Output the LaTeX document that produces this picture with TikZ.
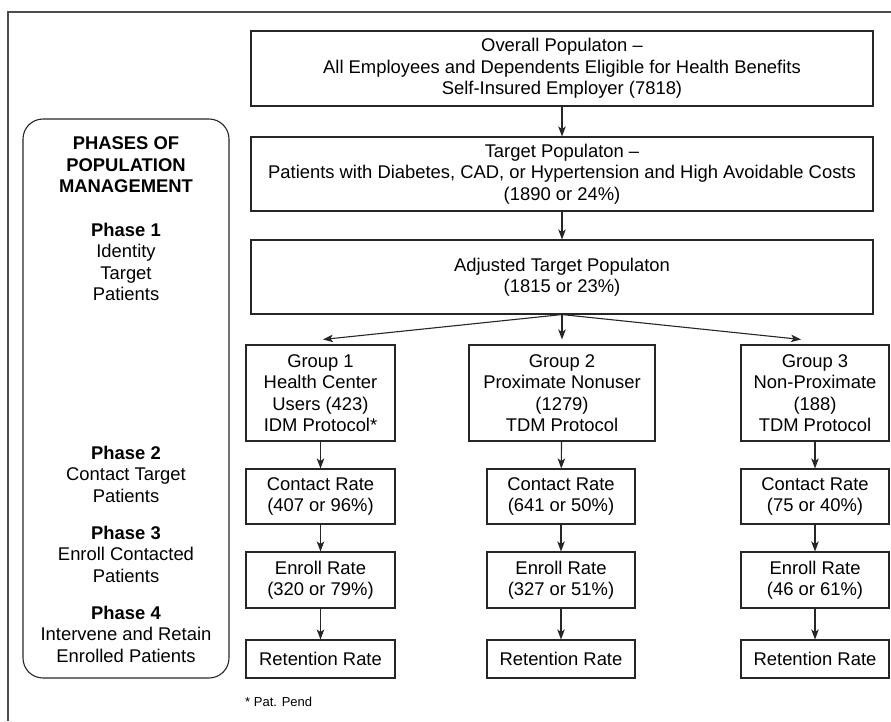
\documentclass[tikz,border=0pt]{standalone}
\usepackage{fontspec}
\setmainfont{Liberation Sans}
\usetikzlibrary{arrows.meta}
\newcommand\diagfont{\fontsize{18.4pt}{21.5pt}\selectfont}

\begin{document}
\begin{tikzpicture}[x=1pt,y=-1pt,
    box/.style 2 args={draw=black!85,line width=1.1pt,align=center,inner sep=0pt,
      font=\diagfont,minimum width=#1,minimum height=#2},
    phase/.style={align=center,font=\diagfont},
    arr/.style={draw=black!85,line width=1.1pt,-{Stealth[length=10pt,width=7.5pt,inset=2.5pt]}}]
  \useasboundingbox (0,0) rectangle (891,721);
  \draw[black!70,line width=1.1pt] (8,721) -- (8,12) -- (891,12);

  \node[box={206pt}{559pt},rounded corners=20pt] (phases) at (126,398.5) {};
  \node[phase] (head) at (126,165) {\bfseries PHASES OF\\\bfseries POPULATION\\\bfseries MANAGEMENT};
  \node[phase] (ph1) at (126,262) {\bfseries Phase 1\\Identity\\Target\\Patients};
  \node[phase] (ph2) at (126,474) {\bfseries Phase 2\\Contact Target\\Patients};
  \node[phase] (ph3) at (126,554) {\bfseries Phase 3\\Enroll Contacted\\Patients};
  \node[phase] (ph4) at (126,634) {\bfseries Phase 4\\Intervene and Retain\\Enrolled Patients};

  \node[box={622pt}{75pt}] (overall) at (562,68.5) {Overall Populaton --\\All Employees and Dependents Eligible for Health Benefits\\Self-Insured Employer (7818)};
  \node[box={622pt}{74pt}] (target) at (562,174) {Target Populaton --\\Patients with Diabetes, CAD, or Hypertension and High Avoidable Costs\\(1890 or 24\%)};
  \node[box={622pt}{74pt}] (adjusted) at (562,277) {Adjusted Target Populaton\\(1815 or 23\%)};

  \node[box={149pt}{96pt}] (grp1) at (320.5,393) {Group 1\\Health Center\\Users (423)\\IDM Protocol*};
  \node[box={186pt}{96pt}] (grp2) at (562,393) {Group 2\\Proximate Nonuser\\(1279)\\TDM Protocol};
  \node[box={148pt}{96pt}] (grp3) at (815,393) {Group 3\\Non-Proximate\\(188)\\TDM Protocol};

  \node[box={149pt}{55pt}] (contact1) at (320.5,496.5) {Contact Rate\\(407 or 96\%)};
  \node[box={148pt}{55pt}] (contact2) at (561,496.5) {Contact Rate\\(641 or 50\%)};
  \node[box={148pt}{55pt}] (contact3) at (815,496.5) {Contact Rate\\(75 or 40\%)};

  \node[box={149pt}{56pt}] (enroll1) at (320.5,580) {Enroll Rate\\(320 or 79\%)};
  \node[box={148pt}{56pt}] (enroll2) at (561,580) {Enroll Rate\\(327 or 51\%)};
  \node[box={148pt}{56pt}] (enroll3) at (815,580) {Enroll Rate\\(46 or 61\%)};

  \node[box={149pt}{38pt}] (retain1) at (320.5,659) {Retention Rate};
  \node[box={148pt}{38pt}] (retain2) at (561,659) {Retention Rate};
  \node[box={148pt}{38pt}] (retain3) at (815,659) {Retention Rate};

  \node[anchor=west,inner sep=0pt,font=\fontsize{13pt}{15pt}\selectfont] (note) at (245,702) {* Pat. Pend};

  \draw[arr] (overall) -- (target);
  \draw[arr] (target) -- (adjusted);
  \draw[arr] (adjusted.south) -- ([xshift=2.5pt,yshift=5pt]grp1.north);
  \draw[arr] (adjusted.south) -- ([yshift=5pt]grp2.north);
  \draw[arr] (adjusted.south) -- ([xshift=-14pt,yshift=5pt]grp3.north);
  \foreach \i in {1,2,3} {
    \draw[arr] (grp\i) -- (contact\i);
    \draw[arr] (contact\i) -- (enroll\i);
    \draw[arr] (enroll\i) -- (retain\i);
  }
\end{tikzpicture}
\end{document}
